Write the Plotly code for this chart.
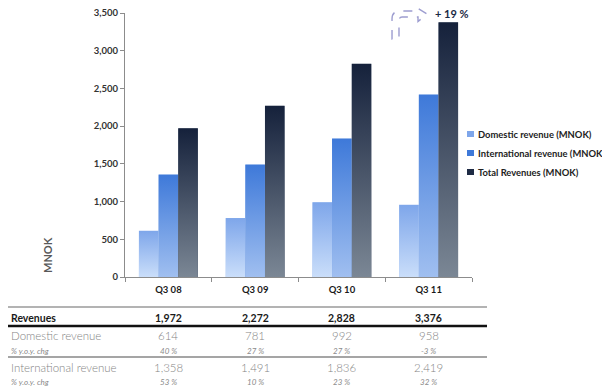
import base64
import plotly.graph_objects as go

quarters = ["Q3 08", "Q3 09", "Q3 10", "Q3 11"]
domestic = [614, 781, 992, 958]
international = [1358, 1491, 1836, 2419]
total = [1972, 2272, 2828, 3376]
domestic_chg = ["40 %", "27 %", "27 %", "-3 %"]
international_chg = ["53 %", "10 %", "23 %", "32 %"]
series_names = ["Domestic revenue (MNOK)", "International revenue (MNOK)", "Total Revenues (MNOK)"]
growth_label = "+ 19 %"

OFF = 8  # page body margin
W, H = 610 - OFF, 389 - OFF
L, R, T, B = 125, 472, 13, 277  # reference pixel positions of plot area
FONT = "Lato"
BARGAP = 0.32


def px(x, y):
    return (x - L) / (R - L), (B - y) / (B - T)


grads = [("#7ea6ea", "#cadefa"), ("#3e79d9", "#a0bff0"), ("#15213b", "#7b8795")]
base = ["#a6c4f2", "#6f9ce3", "#3d4b62"]


def grad_src(top, bot):
    svg = ('<svg xmlns="http://www.w3.org/2000/svg" width="10" height="100" viewBox="0 0 10 100" '
           'preserveAspectRatio="none"><defs><linearGradient id="g" x1="0" y1="0" x2="0" y2="1">'
           f'<stop offset="0" stop-color="{top}"/><stop offset="1" stop-color="{bot}"/>'
           '</linearGradient></defs><rect width="10" height="100" fill="url(#g)"/></svg>')
    return "data:image/svg+xml;base64," + base64.b64encode(svg.encode()).decode()


fig = go.Figure()
series = [domestic, international, total]
for name, vals, col in zip(series_names, series, base):
    fig.add_trace(go.Bar(x=quarters, y=vals, name=name, showlegend=False,
                         marker=dict(color=col, line=dict(width=0))))

images = []
n = len(series)
bw = (1 - BARGAP) / n
for k, vals in enumerate(series):
    src = grad_src(*grads[k])
    for i, v in enumerate(vals):
        images.append(dict(source=src, xref="x", yref="y", x=i - (1 - BARGAP) / 2 + k * bw, y=v,
                           sizex=bw, sizey=v, sizing="stretch", xanchor="left", yanchor="top",
                           layer="above"))

ann = []


def text(xp, yp, s, size, color, xanchor="center", angle=0, xref="paper", weight=None):
    f = dict(family=FONT, size=size, color=color)
    if weight:
        f["weight"] = weight
    ann.append(dict(x=xp, y=yp, xref=xref, yref="paper", text=s, textangle=angle, showarrow=False,
                    xanchor=xanchor, yanchor="middle", font=f))


text(*px(47, 255), "<b>MNOK</b>", 11, "#595959", angle=-90)
text(*px(452, 14), "<b>" + growth_label + "</b>", 11, "#1a2a44")

shapes = []

for k, name in enumerate(series_names):
    ypx = 134 + 19 * k
    x0, y0 = px(467, ypx - 3)
    x1, y1 = px(474, ypx + 3)
    shapes.append(dict(type="rect", xref="paper", yref="paper", x0=x0, x1=x1, y0=y0, y1=y1,
                       fillcolor=grads[k][0] if k < 2 else "#1e2b45", line=dict(width=0)))
    text(*px(476, ypx), "<b>" + name + "</b>", 9.4, "#222222", xanchor="left")


def row(label, values, ypx, size, color, style, weight=None):
    xl, yl = px(8.5, ypx)
    fmt = (lambda s: "<b>%s</b>" % s) if style == "bold" else ((lambda s: "<i>%s</i>" % s) if style == "italic" else (lambda s: s))
    text(xl, yl, fmt(label), size, color, xanchor="left", weight=weight)
    for q, v in zip(quarters, values):
        text(q, yl, fmt(v), size, color, xref="x", weight=weight)


row("Revenues", [f"{v:,}" for v in total], 318, 10.5, "#1a1a1a", "bold")
row("Domestic revenue", [f"{v:,}" for v in domestic], 335, 11.5, "#858585", "plain", weight=300)
row("% y.o.y. chg", domestic_chg, 351, 8, "#8a8a8a", "italic")
row("International revenue", [f"{v:,}" for v in international], 367, 11.5, "#858585", "plain", weight=300)
row("% y.o.y. chg", international_chg, 382, 8, "#8a8a8a", "italic")


def hline(ypx, width, color):
    x0, y0 = px(8, ypx)
    x1, _ = px(487, ypx)
    shapes.append(dict(type="line", xref="paper", yref="paper", x0=x0, x1=x1, y0=y0, y1=y0,
                       line=dict(color=color, width=width)))


hline(307, 1.5, "#9a9a9a")
hline(326, 2.5, "#111111")
hline(357, 2, "#a5a5a5")


def P(p):
    a, b = px(*p)
    return f"{a:.4f},{b:.4f}"


path = ("M " + P((392, 39)) + " L " + P((392, 19)) + " Q " + P((392, 11)) + " " + P((400, 11)) +
        " L " + P((418, 11)) + " L " + P((418, 8.5)) + " L " + P((427, 14)) + " L " + P((418, 21.5)) +
        " L " + P((418, 17)) + " L " + P((402, 17)) + " Q " + P((399, 17)) + " " + P((399, 21)) +
        " L " + P((399, 39)) + " Z")
shapes.append(dict(type="path", xref="paper", yref="paper", path=path,
                   line=dict(color="#9d9dd0", width=1.4, dash="dash"), fillcolor="rgba(0,0,0,0)"))

fig.update_layout(
    width=W, height=H, autosize=False,
    margin=dict(l=L - OFF, r=(610 - R), t=T - OFF, b=(389 - B), pad=0, autoexpand=False),
    paper_bgcolor="white", plot_bgcolor="white",
    barmode="group", bargap=BARGAP, bargroupgap=0,
    font=dict(family=FONT, color="#333333"),
    showlegend=False,
    xaxis=dict(showline=True, linecolor="#8c8c8c", linewidth=1, ticks="outside", ticklen=4, tickcolor="#8c8c8c",
               tickson="boundaries", tickfont=dict(family=FONT, size=9.5, color="#1a1a1a"), showgrid=False,
               tickprefix="<b>", ticksuffix="</b>", ticklabelstandoff=4, automargin=False),
    yaxis=dict(range=[0, 3500], dtick=500, tickformat=",", showline=True, linecolor="#8c8c8c", linewidth=1,
               ticks="outside", ticklen=4, tickcolor="#8c8c8c", showgrid=False, zeroline=False, automargin=False,
               ticklabeloverflow="allow",
               tickfont=dict(family=FONT, size=9.5, color="#333333"), tickprefix="<b>", ticksuffix="</b>"),
    annotations=ann, shapes=shapes, images=images,
)

fig.write_html("out.html")
